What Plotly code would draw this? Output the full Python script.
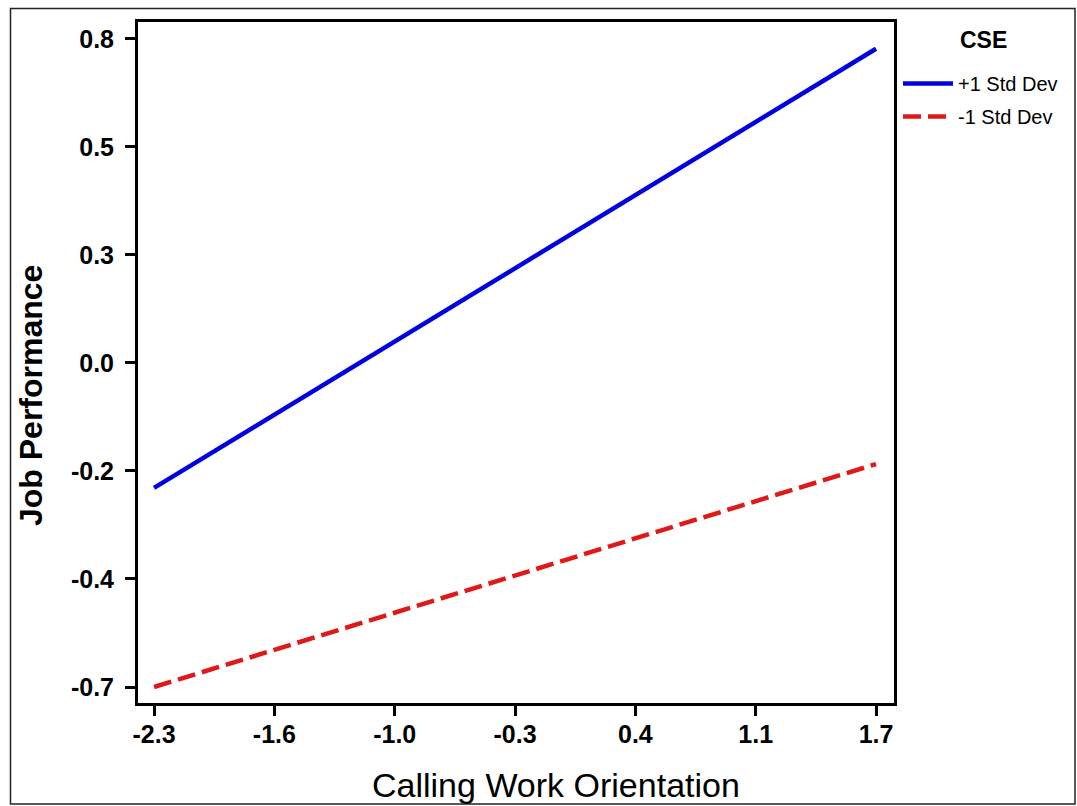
import plotly.graph_objects as go

# Data
x_vals = [-2.3, 1.7]
high_cse = [-0.239, 0.777]   # +1 Std Dev
low_cse = [-0.700, -0.184]   # -1 Std Dev

x_tickvals = [-2.3, -1.6333, -0.9667, -0.3, 0.3667, 1.0333, 1.7]
x_ticktext = ["-2.3", "-1.6", "-1.0", "-0.3", "0.4", "1.1", "1.7"]
y_tickvals = [0.8, 0.55, 0.3, 0.05, -0.2, -0.45, -0.7]
y_ticktext = ["0.8", "0.5", "0.3", "0.0", "-0.2", "-0.4", "-0.7"]

W, H = 1077, 806
L, R, T, B = 138, 183, 22, 103
PW, PH = W - L - R, H - T - B


def px(xp):
    return (xp - L) / PW


def py(yp):
    return (H - B - yp) / PH


fig = go.Figure()
fig.add_trace(go.Scatter(x=x_vals, y=high_cse, mode="lines", name="+1 Std Dev",
                         legendgroup="hi",
                         line=dict(color="#0000e0", width=4.5)))
fig.add_trace(go.Scatter(x=x_vals, y=low_cse, mode="lines", name="-1 Std Dev",
                         legendgroup="lo",
                         line=dict(color="#e01818", width=4.5, dash="18px,7px")))

tickfont = dict(family="Liberation Sans, Arial", size=25, color="black", weight="bold")

fig.update_layout(
    width=W, height=H,
    margin=dict(l=L, r=R, t=T, b=B, pad=0),
    paper_bgcolor="white", plot_bgcolor="white",
    showlegend=True,
    legend=dict(
        x=px(898), y=py(64), xanchor="left", yanchor="top",
        font=dict(family="Liberation Sans, Arial", size=20, color="black"),
        itemwidth=50, tracegroupgap=4, bgcolor="rgba(0,0,0,0)",
    ),
    xaxis=dict(
        range=[-2.389, 1.7997], tickvals=x_tickvals, ticktext=x_ticktext,
        showgrid=False, zeroline=False, showline=True, linecolor="black", linewidth=3,
        mirror=True, ticks="outside", ticklen=10, tickwidth=3, tickcolor="black",
        tickfont=tickfont, ticklabelstandoff=-3,
    ),
    yaxis=dict(
        range=[-0.737, 0.839], tickvals=y_tickvals, ticktext=y_ticktext,
        showgrid=False, zeroline=False, showline=True, linecolor="black", linewidth=3,
        mirror=True, ticks="outside", ticklen=10, tickwidth=3, tickcolor="black",
        tickfont=tickfont, ticklabelstandoff=6,
    ),
    annotations=[
        dict(text="Calling Work Orientation", xref="paper", yref="paper",
             x=px(556), y=py(785), xanchor="center", yanchor="middle", showarrow=False,
             font=dict(family="Liberation Sans, Arial", size=34, color="black")),
        dict(text="<b>Job Performance</b>", xref="paper", yref="paper", textangle=-90,
             x=px(31), y=py(396), xanchor="center", yanchor="middle", showarrow=False,
             font=dict(family="Liberation Sans, Arial", size=32, color="black")),
        dict(text="<b>CSE</b>", xref="paper", yref="paper",
             x=px(983), y=py(40), xanchor="center", yanchor="middle", showarrow=False,
             font=dict(family="Liberation Sans, Arial", size=23, color="black")),
    ],
    shapes=[dict(type="rect", xref="paper", yref="paper",
                 x0=px(10.5), x1=px(1075), y0=py(804), y1=py(8.5),
                 line=dict(color="#222222", width=1.5), fillcolor="rgba(0,0,0,0)", layer="below")],
)

fig.write_html("out.html", config={"displayModeBar": False},
               post_script="document.body.style.margin='0';document.body.style.overflow='hidden';")
